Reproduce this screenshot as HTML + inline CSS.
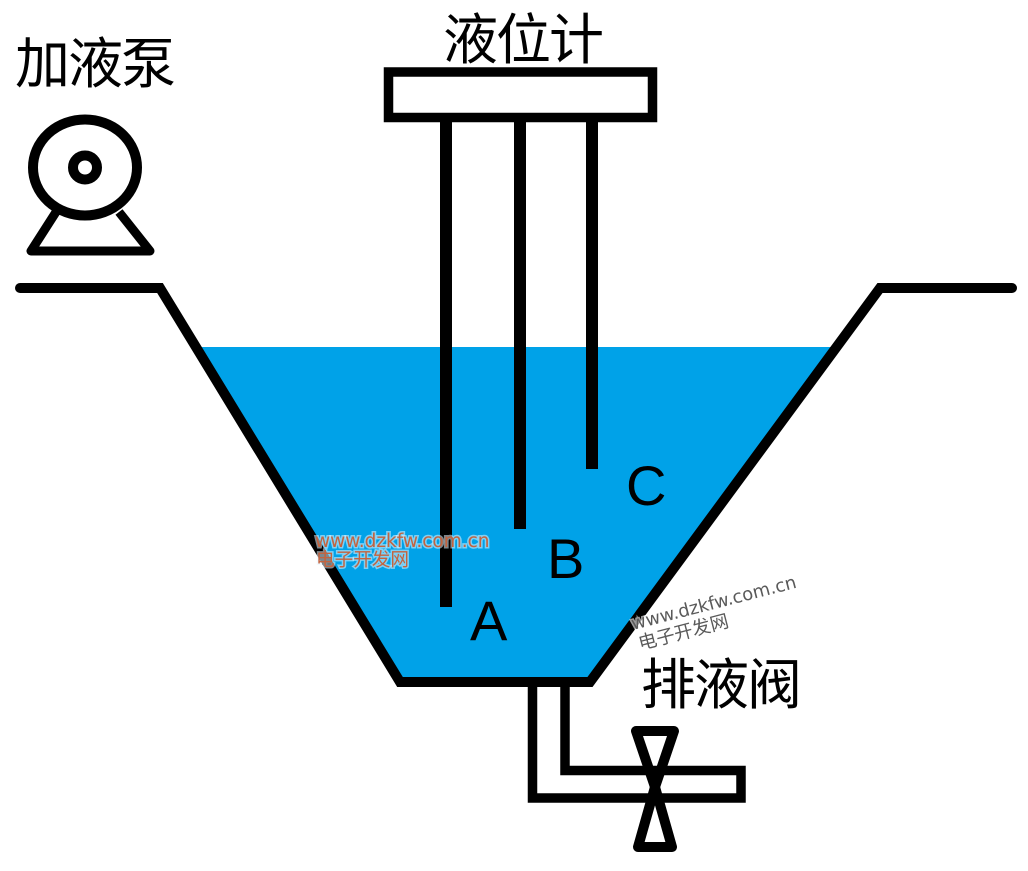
<!DOCTYPE html>
<html>
<head>
<meta charset="utf-8">
<style>
html,body{margin:0;padding:0;background:#fff;}
svg{display:block;}
</style>
</head>
<body>
<svg width="1028" height="871" viewBox="0 0 1028 871" xmlns="http://www.w3.org/2000/svg">
  <rect width="1028" height="871" fill="#fff"/>

  <!-- water -->
  <polygon points="196,347 837,347 590,682 400,682" fill="#00a2e8"/>

  <!-- tank -->
  <path d="M20,288 L160,288 L400,682 L590,682 L880,288 L1012,288" fill="none" stroke="#000" stroke-width="10" stroke-linecap="round" stroke-linejoin="miter"/>

  <!-- level gauge box -->
  <rect x="388.5" y="72" width="264" height="45.5" fill="#fff" stroke="#000" stroke-width="9.5"/>
  <!-- probes -->
  <rect x="440" y="117" width="12" height="490" fill="#000"/>
  <rect x="514" y="117" width="12" height="412" fill="#000"/>
  <rect x="586" y="117" width="12" height="352" fill="#000"/>

  <!-- drain pipe -->
  <path d="M532.5,682 L532.5,798 L741,798 L741,770.5 L565,770.5 L565,682" fill="none" stroke="#000" stroke-width="9.5" stroke-linejoin="miter"/>

  <!-- valve -->
  <path d="M636,731 L674,731 L655,787 Z" fill="none" stroke="#000" stroke-width="10" stroke-linejoin="round"/>
  <path d="M655,787 L672,847 L638,847 Z" fill="none" stroke="#000" stroke-width="10" stroke-linejoin="round"/>

  <!-- pump -->
  <path d="M56,212 L31,251 L150,251 L119,212" fill="none" stroke="#000" stroke-width="9" stroke-linejoin="round" stroke-linecap="butt"/>
  <ellipse cx="85" cy="167.5" rx="52" ry="48" fill="#fff" stroke="#000" stroke-width="10"/>
  <circle cx="85" cy="167.5" r="12" fill="none" stroke="#000" stroke-width="10"/>

  <!-- labels -->
  <g font-family="'Liberation Sans','Noto Sans CJK SC',sans-serif" font-size="55" fill="#000">
    <text x="15" y="83" letter-spacing="-2">加液泵</text>
    <text x="443" y="59" letter-spacing="-2">液位计</text>
    <text x="641" y="704" letter-spacing="-2">排液阀</text>
  </g>
  <g font-family="'Liberation Sans',sans-serif" font-size="56" fill="#000">
    <text x="470" y="640">A</text>
    <text x="547" y="578">B</text>
    <text x="626" y="505">C</text>
  </g>

  <!-- watermark 1 -->
  <g font-family="'DejaVu Sans','Noto Sans CJK SC',sans-serif" fill="#c4633e" stroke="rgba(230,245,255,0.55)" stroke-width="3" paint-order="stroke">
    <text x="315" y="547" font-size="18.5">www.dzkfw.com.cn</text>
    <text x="316" y="566" font-size="18.6" font-family="'Noto Sans CJK SC',sans-serif">电子开发网</text>
  </g>

  <!-- watermark 2 -->
  <g transform="translate(633,630) rotate(-14.5)" font-family="'DejaVu Sans','Noto Sans CJK SC',sans-serif" fill="#5a5a5a" stroke="rgba(255,255,255,0.6)" stroke-width="3" paint-order="stroke">
    <text x="0" y="0" font-size="18">www.dzkfw.com.cn</text>
    <text x="2" y="21" font-size="18.5" font-family="'Noto Sans CJK SC',sans-serif">电子开发网</text>
  </g>
</svg>
</body>
</html>
